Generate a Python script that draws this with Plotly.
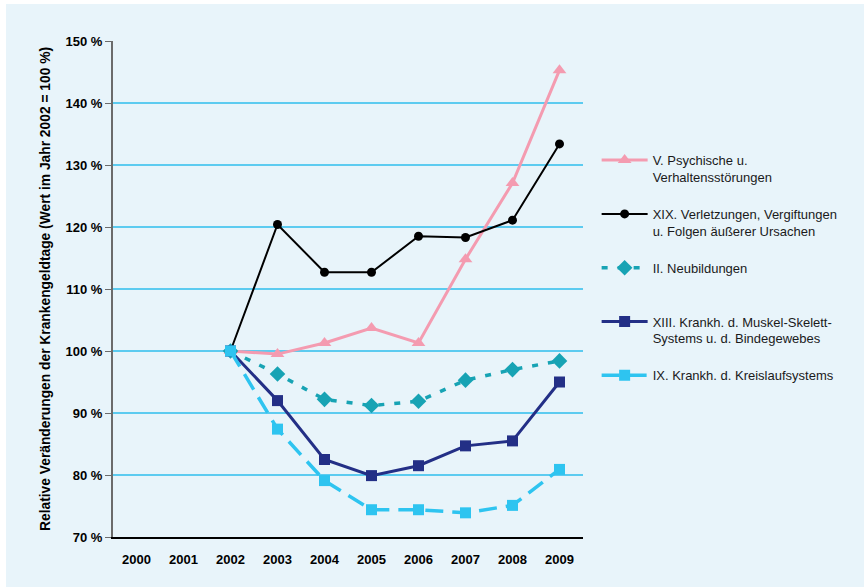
import plotly.graph_objects as go

years = ["2000", "2001", "2002", "2003", "2004", "2005", "2006", "2007", "2008", "2009"]
data_years = ["2002", "2003", "2004", "2005", "2006", "2007", "2008", "2009"]

psych = [100, 99.5, 101.3, 103.7, 101.3, 114.8, 127.1, 145.3]
verletz = [100, 120.4, 112.7, 112.7, 118.5, 118.3, 121.1, 133.4]
neubild = [100, 96.3, 92.2, 91.2, 91.9, 95.3, 97.0, 98.4]
muskel = [100, 92.0, 82.5, 79.9, 81.5, 84.7, 85.5, 95.0]
kreislauf = [100, 87.4, 79.1, 74.4, 74.4, 73.9, 75.1, 80.9]

names = [
    "V. Psychische u.<br>Verhaltensstörungen",
    "XIX. Verletzungen, Vergiftungen<br>u. Folgen äußerer Ursachen",
    "II. Neubildungen<br> ",
    "XIII. Krankh. d. Muskel-Skelett-<br>Systems u. d. Bindegewebes",
    "IX. Krankh. d. Kreislaufsystems<br> ",
]

y_ticks = [70, 80, 90, 100, 110, 120, 130, 140, 150]
y_labels = [f"{v} %" for v in y_ticks]

bg = "#E8F4FA"
fam = "Liberation Sans, Arial, sans-serif"

fig = go.Figure()

fig.add_trace(go.Scatter(
    x=data_years, y=psych, name=names[0], mode="lines+markers",
    line=dict(color="#F49BB0", width=3),
    marker=dict(symbol="triangle-up", size=12, color="#F49BB0"),
    legendgroup="a",
))
fig.add_trace(go.Scatter(
    x=data_years, y=verletz, name=names[1], mode="lines+markers",
    line=dict(color="#000000", width=2),
    marker=dict(symbol="circle", size=9, color="#000000"),
    legendgroup="b",
))
fig.add_trace(go.Scatter(
    x=data_years, y=neubild, name=names[2], mode="lines+markers",
    line=dict(color="#17A3B4", width=3.5, dash="6px,10px"),
    marker=dict(symbol="diamond", size=12, color="#17A3B4"),
    legendgroup="c",
))
fig.add_trace(go.Scatter(
    x=data_years, y=muskel, name=names[3], mode="lines+markers",
    line=dict(color="#232F86", width=3),
    marker=dict(symbol="square", size=11, color="#232F86"),
    legendgroup="d",
))
fig.add_trace(go.Scatter(
    x=data_years, y=kreislauf, name=names[4], mode="lines+markers",
    line=dict(color="#2EC4F0", width=3.5, dash="18px,9px"),
    marker=dict(symbol="square", size=11, color="#2EC4F0"),
    legendgroup="e",
))

fig.update_layout(
    template="none",
    width=858, height=583,
    margin=dict(l=107, r=281, t=37, b=50, pad=0),
    paper_bgcolor=bg,
    plot_bgcolor=bg,
    font=dict(family=fam, size=13, color="#000000"),
    showlegend=True,
    legend=dict(
        x=1.029, y=0.79, xanchor="left", yanchor="top",
        bgcolor="rgba(0,0,0,0)",
        font=dict(size=13, color="#1a1a1a", family=fam),
        tracegroupgap=17,
        itemwidth=46,
        valign="top",
    ),
    xaxis=dict(
        type="category",
        categoryorder="array", categoryarray=years,
        range=[-0.5, 9.5],
        showgrid=False,
        showline=True, linecolor="#000000", linewidth=1.5,
        ticks="", ticklabelstandoff=10,
        tickfont=dict(size=13, family=fam, weight="bold", color="#000000"),
        zeroline=False,
    ),
    yaxis=dict(
        range=[70, 150],
        tickvals=y_ticks, ticktext=y_labels,
        showgrid=True, gridcolor="#5CCBF0", gridwidth=1.6,
        showline=True, linecolor="#6b6b6b", linewidth=2,
        ticks="outside", ticklen=6, tickcolor="#6b6b6b", tickwidth=1,
        tickfont=dict(size=13, family=fam, weight="bold", color="#000000"),
        zeroline=False,
        title=dict(
            text="Relative Veränderungen der Krankengeldtage (Wert im Jahr 2002 = 100 %)",
            font=dict(size=13.8, family=fam, weight="bold", color="#000000"),
            standoff=12,
        ),
    ),
)

fig.write_html(
    "out.html",
    post_script="document.body.style.margin='4px 0 0 6px';",
)
